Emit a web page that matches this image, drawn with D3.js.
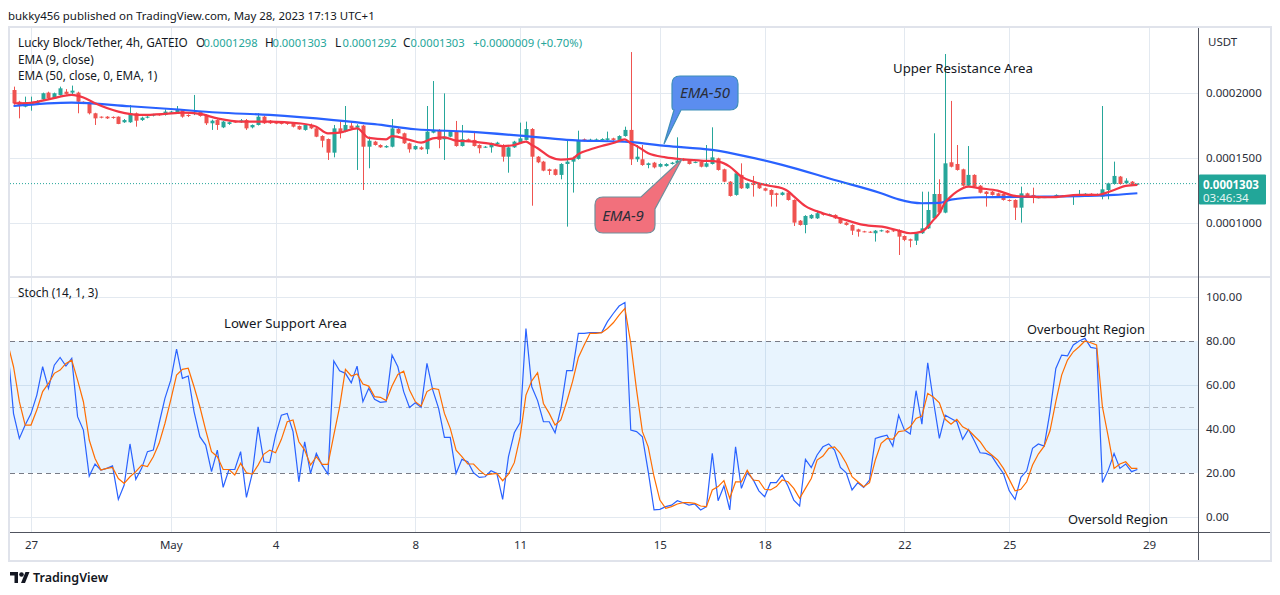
<!DOCTYPE html>
<html><head><meta charset="utf-8">
<script src="https://cdn.jsdelivr.net/npm/d3@7/dist/d3.min.js"></script>
<style>
html,body{margin:0;padding:0;background:#fff;}
svg{display:block;font-family:"Noto Sans",sans-serif;}
</style></head><body>
<svg id="chart" width="1280" height="595"></svg>
<script>
// ---------------- DATA ----------------
// prices are listed in units of 0.0000001 USDT
const UNIT = 1e-7;
const firstCandle = "2023-04-26T12:00";   // chart wall-clock (UTC+1)
const candleHours = 4;

const open = [
2023,1933,1895,1908,1921,1951,2003,1959,1985,2010,
2003,2003,1933,1921,1844,1818,1818,1816,1818,1775,
1775,1844,1792,1810,1826,1836,1831,1849,1849,1870,
1831,1839,1857,1831,1767,1792,1736,1762,1780,1775,
1792,1736,1754,1818,1787,1777,1770,1770,1767,1746,
1716,1754,1728,1669,1646,1541,1728,1703,1749,1733,
1749,1587,1626,1600,1582,1587,1723,1690,1613,1567,
1582,1567,1695,1716,1644,1664,1703,1592,1644,1639,
1600,1582,1582,1608,1600,1510,1582,1618,1639,1723,
1510,1472,1413,1413,1370,1454,1472,1493,1644,1636,
1638,1641,1639,1651,1639,1669,1716,1490,1490,1446,
1464,1433,1438,1454,1459,1493,1480,1464,1472,1433,
1454,1497,1413,1318,1216,1370,1267,1305,1300,1267,
1254,1228,1216,1234,1177,1018,985,1036,1036,1070,
1062,1062,1036,1003,985,951,936,933,921,938,
941,944,946,900,875,864,921,959,1036,1223,
1080,1467,1454,1413,1287,1370,1287,1241,1241,1228,
1223,1177,1177,1118,1228,1216,1195,1196,1198,1203,
1210,1206,1208,1216,1222,1225,1213,1203,1254,1300,
1357,1305,1318,1298];

const high = [
2049,1940,1972,1972,1945,2003,2010,2003,2049,2030,
2057,2010,1935,1925,1848,1820,1822,1820,1820,1800,
1908,1850,1818,1822,1840,1840,1874,1862,1900,1875,
1836,1985,1862,1836,1795,1798,1785,1780,1785,1800,
1800,1758,1844,1825,1792,1782,1775,1775,1772,1750,
1760,1765,1735,1675,1650,1754,1780,1900,1780,1760,
1755,1664,1632,1605,1598,1800,1730,1695,1618,1597,
1590,1900,2092,1722,1997,1708,1785,1754,1650,1708,
1605,1592,1618,1625,1606,1590,1632,1772,1780,1730,
1515,1478,1418,1418,1460,1639,1510,1710,1650,1648,
1650,1652,1703,1656,1675,1741,2315,1600,1600,1465,
1470,1460,1460,1470,1659,1498,1485,1474,1477,1600,
1736,1502,1418,1322,1390,1459,1310,1362,1305,1272,
1259,1233,1240,1240,1182,1023,1060,1068,1095,1075,
1072,1067,1041,1008,990,956,940,937,946,949,
946,950,951,905,880,926,1241,1241,1690,1336,
2300,1939,1600,1418,1592,1375,1292,1246,1246,1233,
1228,1182,1182,1280,1233,1272,1202,1203,1207,1220,
1214,1214,1220,1254,1229,1229,1227,1900,1310,1472,
1362,1344,1323,1303];

const low = [
1910,1805,1890,1864,1915,1946,1950,1955,1980,1988,
1985,1844,1915,1835,1754,1805,1800,1802,1760,1770,
1770,1741,1785,1805,1820,1825,1826,1845,1845,1810,
1815,1830,1818,1754,1716,1716,1730,1755,1770,1770,
1716,1728,1750,1762,1762,1760,1758,1755,1735,1716,
1710,1722,1660,1582,1485,1505,1651,1698,1722,1408,
1254,1421,1595,1578,1578,1582,1685,1608,1541,1562,
1562,1531,1690,1575,1485,1660,1587,1588,1622,1588,
1536,1578,1541,1602,1472,1387,1578,1612,1635,1133,
1460,1398,1370,1365,1336,972,1234,1488,1628,1630,
1632,1636,1634,1632,1634,1664,1446,1470,1440,1421,
1420,1428,1434,1450,1452,1476,1450,1460,1428,1428,
1450,1403,1313,1203,1210,1262,1262,1203,1262,1244,
1126,1126,1211,1172,977,980,921,1031,1031,1057,
1058,1031,993,980,908,895,928,925,857,933,
921,932,754,860,813,831,916,954,1030,1075,
1075,1428,1403,1280,1282,1275,1228,1126,1211,1203,
1172,1165,1023,1003,1198,1152,1190,1192,1194,1199,
1202,1202,1139,1212,1218,1217,1209,1182,1182,1295,
1295,1300,1287,1292];

const close = [
1921,1900,1921,1928,1934,1998,1959,1998,2036,1993,
2018,1933,1921,1844,1805,1810,1805,1808,1762,1792,
1844,1787,1810,1818,1836,1829,1857,1857,1870,1818,
1823,1849,1823,1767,1787,1754,1780,1775,1775,1790,
1728,1754,1818,1767,1767,1764,1762,1762,1741,1720,
1754,1728,1664,1633,1541,1728,1695,1754,1728,1749,
1587,1633,1600,1582,1592,1728,1690,1613,1567,1592,
1567,1703,1716,1639,1664,1703,1592,1644,1626,1592,
1575,1587,1613,1618,1510,1582,1626,1651,1723,1510,
1467,1403,1400,1370,1454,1472,1498,1639,1633,1641,
1643,1646,1651,1639,1669,1716,1490,1510,1446,1459,
1428,1454,1454,1464,1480,1480,1454,1470,1433,1459,
1505,1408,1318,1208,1382,1267,1305,1292,1267,1249,
1216,1216,1234,1177,1003,985,1054,1062,1075,1062,
1068,1036,998,985,941,933,931,928,941,944,
926,936,895,870,864,921,959,1100,1223,1080,
1459,1433,1408,1287,1370,1280,1233,1223,1216,1208,
1177,1170,1118,1228,1203,1198,1198,1199,1203,1216,
1206,1210,1216,1223,1225,1221,1223,1259,1305,1362,
1300,1326,1292,1303];

// EMA readings: [candle index, price]
const ema9 = [[0,1921],[3,1925],[6,1951],[10,1985],[12,1965],[14,1921],[18,1857],[22,1831],[26,1839],[29,1849],
[32,1839],[35,1805],[39,1780],[44,1780],[49,1767],[52,1741],[54,1690],[56,1695],[59,1728],[61,1655],
[64,1644],[65,1669],[68,1639],[70,1618],[72,1651],[74,1659],[76,1633],[79,1626],[82,1608],[84,1592],
[86,1600],[88,1626],[89,1600],[90,1575],[92,1512],[94,1488],[96,1495],[97,1530],[99,1565],[101,1592],
[103,1615],[105,1644],[106,1613],[107,1593],[109,1536],[112,1505],[115,1490],[118,1480],[121,1472],[123,1434],
[125,1357],[127,1318],[130,1285],[132,1267],[133,1245],[134,1205],[136,1130],[139,1075],[142,1036],[146,985],
[150,965],[152,941],[154,921],[156,934],[157,972],[158,1024],[159,1075],[160,1160],[161,1205],[162,1241],
[164,1280],[166,1267],[169,1249],[172,1208],[174,1203],[178,1198],[183,1216],[186,1216],[189,1254],[191,1285],
[193,1293]];
const ema50 = [[0,1900],[10,1926],[20,1898],[27,1877],[35,1850],[44,1831],[55,1792],[62,1760],[69,1721],[78,1703],
[87,1672],[95,1639],[106,1622],[112,1593],[120,1562],[126,1511],[132,1447],[141,1331],[149,1229],[152,1182],
[156,1152],[159,1155],[161,1180],[166,1198],[177,1203],[184,1208],[189,1216],[193,1229]];

// Stoch %K and %D, starting one candle before the first drawn candle
const stochK = [77,
47,35.7,41.8,47,55.4,68.3,58.5,69,72.5,68.6,
72.1,45.6,39.5,18.6,24.1,21.3,22.1,23.2,8,14.5,
33.2,17.1,22.1,29.7,30.4,42.5,53.9,62.2,76.3,63,
64.1,47.9,36.5,32.7,20.6,30.4,13.5,21.6,21.6,29.7,
8.9,19.8,41,25.1,24.7,37.2,46.3,47.1,38.8,16,
34.2,19.8,28.9,23.6,19.5,70.9,66.5,65.3,61,68.6,
52.4,58.5,53.5,52.1,52.4,73.6,68.3,57,49.8,51.9,
49.8,69.8,57.7,49.4,36.2,36.2,19.8,26.2,25.1,20.1,
18,18.3,21,19.8,8,27.4,38.3,42.9,85.7,59.2,
52.9,43.3,43.3,38.3,49.4,66.5,66.5,83.5,83.5,83.8,
83.8,83.8,88.8,92.5,95.9,97.5,39.5,38.8,36.5,20.6,
3.2,3.5,4.7,5.4,7.4,6.5,5.4,5.9,3.2,4.7,
28.9,7.4,14.1,3.2,31.9,13,20.1,17.1,11.9,9.2,
15.6,15.6,19.1,14.1,7.7,5,26.2,22.5,28.2,31.9,
33.2,30.4,22.5,20.1,12.3,15.6,13.5,16.8,35.7,36.5,
37.2,32.2,46.3,39.5,37.7,57.4,42.2,70.1,52.4,35.7,
46.3,44.8,43.3,35.3,39.8,34.7,29.2,28.9,27.7,23.6,
19.8,11.9,8,18,21,31.2,33.2,32.2,47.8,67.5,
73.6,73.2,78.2,80,81.2,77.1,76.6,15.7,21.3,28.9,
22.1,24.1,20.6,21.6];
const stochD = [79,
68.3,52.4,41.8,41.8,48.6,57,60.7,65.3,66.8,69.8,
71.3,62.2,52.4,35,26.6,21.3,22.1,22.5,17.5,15.3,
18.3,20.6,23.6,22.9,27.4,33.5,42.5,53.2,64.5,67.1,
67.6,59.2,50.1,39.5,29.7,27.4,21.6,21.6,19.1,24.4,
20.1,19.5,23.6,28.6,30.4,29.2,35.3,43.3,44.1,34.2,
30.4,23.6,27.4,23.9,23.9,37.2,50.1,67.1,64.1,65,
60.4,59.5,54.7,54.4,52.9,59.5,64.8,66.3,57.7,52.4,
50.4,57,58.5,58,47.1,40.3,30.4,27.4,24.1,24.1,
21.3,19.1,19.5,19.8,16.5,19.5,24.7,36.5,55.4,61.9,
65.6,51.6,47.1,41.8,44.1,52.4,61.5,72.5,78.2,83.5,
83.5,83.8,85.7,88.3,91.8,94.8,78.9,57.7,38.8,31.9,
18.3,7.7,3.9,4.7,5.9,6.5,6.5,6.2,5,4.7,
12.3,13.8,16.5,8.5,16,16,21.3,16.8,16.5,12.6,
12.3,13.8,16.8,16,13,8.5,13,17.5,25.9,27.7,
31.2,31.9,28.9,24.4,18.3,16,13.8,15.6,25.9,33.5,
35.7,35.3,38.8,39.2,41,44.8,45.9,56.2,54.4,51.9,
44.4,42.2,44.4,41,39.5,36.8,34.2,30.4,28.2,25.9,
22.1,17.1,11.9,12.6,16,23.6,28.6,32.2,39.2,52.4,
64.5,71.3,75.1,77.4,80,79.2,78.2,50.1,36.5,22.1,
24.1,25.1,22.1,22.1];

const timeTicks = ["2023-04-27","2023-05-01","2023-05-04","2023-05-08","2023-05-11","2023-05-15","2023-05-18","2023-05-22","2023-05-25","2023-05-29"];
const timeTickLabels = ["27","May","4","8","11","15","18","22","25","29"];
const priceTicks = [0.0001, 0.00015, 0.0002];
const stochTicks = [0, 20, 40, 60, 80, 100];
const stochGrid = [0, 40, 60, 100];
const stochBands = {upper: 80, middle: 50, lower: 20};
const lastPrice = 0.0001303;
const countdown = "03:46:34";
const legendOHLC = [["O", "0.0001298"], ["H", "0.0001303"], ["L", "0.0001292"], ["C", "0.0001303"]];
const legendChange = "+0.0000009 (+0.70%)";

// ---------------- LAYOUT ----------------
const L = 10, R = 1198, RR = 1270, T = 28, SEP = 277, AX = 532, B = 560;
const UP = "#26a69a", DOWN = "#ef5350", GRID = "#e3e9f0", TXT = "#131722", AXT = "#2a2e39";

const svg = d3.select("#chart");
const parseDay = d3.utcParse("%Y-%m-%d");
const parseHour = d3.utcParse("%Y-%m-%dT%H:%M");
const t0 = parseHour(firstCandle);
const tOf = i => new Date(t0.getTime() + i * candleHours * 3600e3);

const x = d3.scaleUtc().domain([parseDay("2023-04-27"), parseDay("2023-05-29")]).range([31, 1149]);
const y = d3.scaleLinear().domain([0.0001, 0.0002]).range([223, 93]);
const ys = d3.scaleLinear().domain([0, 100]).range([517, 297]);

const defs = svg.append("defs");
defs.append("clipPath").attr("id", "clipP").append("rect").attr("x", L).attr("y", T).attr("width", R - L).attr("height", SEP - T - 1);
defs.append("clipPath").attr("id", "clipS").append("rect").attr("x", L).attr("y", SEP + 1).attr("width", R - L).attr("height", AX - SEP - 1);

svg.append("rect").attr("width", 1280).attr("height", 595).attr("fill", "#fff");

function fitW(sel, w) {
  const cur = sel.node().getComputedTextLength();
  if (cur > 0) sel.attr("font-size", (+sel.attr("font-size")) * w / cur);
  return sel;
}

// header
const hdr = svg.append("text").attr("x", 8).attr("y", 15).attr("dominant-baseline", "central")
  .attr("font-size", 12.5).attr("fill", TXT).text("bukky456 published on TradingView.com, May 28, 2023 17:13 UTC+1");
fitW(hdr, 367);

// grid
const tickDates = timeTicks.map(parseDay);
const grid = svg.append("g").attr("stroke", GRID).attr("stroke-width", 1);
grid.selectAll("line.v").data(tickDates).join("line")
  .attr("x1", d => Math.round(x(d)) + 0.5).attr("x2", d => Math.round(x(d)) + 0.5)
  .attr("y1", T).attr("y2", AX);
grid.selectAll("line.hp").data(priceTicks).join("line")
  .attr("x1", L).attr("x2", R).attr("y1", d => Math.round(y(d)) + 0.5).attr("y2", d => Math.round(y(d)) + 0.5);
grid.selectAll("line.hs").data(stochGrid).join("line")
  .attr("x1", L).attr("x2", R).attr("y1", d => Math.round(ys(d)) + 0.5).attr("y2", d => Math.round(ys(d)) + 0.5);

// stoch band
svg.append("rect").attr("x", L).attr("width", R - L)
  .attr("y", ys(stochBands.upper)).attr("height", ys(stochBands.lower) - ys(stochBands.upper))
  .attr("fill", "rgba(33,150,243,0.1)");
[[stochBands.upper, 1], [stochBands.middle, 0.5], [stochBands.lower, 1]].forEach(([v, op]) => {
  svg.append("line").attr("x1", L).attr("x2", R).attr("y1", Math.round(ys(v)) + 0.5).attr("y2", Math.round(ys(v)) + 0.5)
    .attr("stroke", "#787b86").attr("stroke-opacity", op).attr("stroke-dasharray", "5,4");
});

// candles
const candles = open.map((o, i) => ({ t: tOf(i), o: o * UNIT, h: high[i] * UNIT, l: low[i] * UNIT, c: close[i] * UNIT }));
const gC = svg.append("g").attr("clip-path", "url(#clipP)");
gC.selectAll("line.wick").data(candles).join("line")
  .attr("x1", d => Math.round(x(d.t)) + 0.5).attr("x2", d => Math.round(x(d.t)) + 0.5)
  .attr("y1", d => y(d.h)).attr("y2", d => y(d.l))
  .attr("stroke", d => d.c >= d.o ? UP : DOWN).attr("stroke-width", 1);
gC.selectAll("rect.body").data(candles).join("rect")
  .attr("x", d => Math.round(x(d.t)) - 1.5).attr("width", 4)
  .attr("y", d => y(Math.max(d.o, d.c)))
  .attr("height", d => Math.max(1, Math.abs(y(d.o) - y(d.c))))
  .attr("fill", d => d.c >= d.o ? UP : DOWN);

// EMA lines
const emaLine = d3.line().x(d => x(tOf(d[0]))).y(d => y(d[1] * UNIT)).curve(d3.curveMonotoneX);
gC.append("path").datum(ema50).attr("d", emaLine).attr("fill", "none").attr("stroke", "#2962ff").attr("stroke-width", 2.2);
gC.append("path").datum(ema9).attr("d", emaLine).attr("fill", "none").attr("stroke", "#f23645").attr("stroke-width", 2.2);

// last price dotted line
gC.append("line").attr("x1", L).attr("x2", R).attr("y1", y(lastPrice)).attr("y2", y(lastPrice))
  .attr("stroke", UP).attr("stroke-dasharray", "1,2");

// stoch lines
const gS = svg.append("g").attr("clip-path", "url(#clipS)");
const stLine = d3.line().x((d, i) => x(tOf(i - 1))).y(d => ys(d));
gS.append("path").datum(stochK).attr("d", stLine).attr("fill", "none").attr("stroke", "#2962ff").attr("stroke-width", 1.2);
gS.append("path").datum(stochD).attr("d", stLine).attr("fill", "none").attr("stroke", "#ff6d00").attr("stroke-width", 1.2);

// frame
const frame = svg.append("g");
frame.append("rect").attr("x", L - 1).attr("y", T - 1).attr("width", RR - L + 2).attr("height", B - T + 2)
  .attr("fill", "none").attr("stroke", "#e0e3eb").attr("stroke-width", 2);
frame.append("line").attr("x1", L).attr("x2", RR).attr("y1", SEP).attr("y2", SEP).attr("stroke", "#e0e3eb").attr("stroke-width", 2);
frame.append("line").attr("x1", R + 0.5).attr("x2", R + 0.5).attr("y1", T).attr("y2", B).attr("stroke", "#50535e").attr("stroke-width", 1);
frame.append("line").attr("x1", L).attr("x2", RR).attr("y1", AX + 0.5).attr("y2", AX + 0.5).attr("stroke", "#50535e").attr("stroke-width", 1);

// axes
function styleAxis(g) {
  g.select(".domain").remove();
  g.selectAll("text").attr("font-family", "Noto Sans, sans-serif").attr("font-size", 11.5).attr("fill", AXT);
}
svg.append("g").attr("transform", `translate(0,${AX})`)
  .call(d3.axisBottom(x).tickValues(tickDates).tickFormat((d, i) => timeTickLabels[i]).tickSize(0).tickPadding(9))
  .call(styleAxis);
svg.append("g").attr("transform", `translate(${R},0)`)
  .call(d3.axisRight(y).tickValues(priceTicks).tickFormat(d3.format(".7f")).tickSize(0).tickPadding(8))
  .call(styleAxis);
svg.append("g").attr("transform", `translate(${R},0)`)
  .call(d3.axisRight(ys).tickValues(stochTicks).tickFormat(d3.format(".2f")).tickSize(0).tickPadding(8))
  .call(styleAxis);
svg.append("text").attr("x", 1208).attr("y", 41).attr("dominant-baseline", "central")
  .attr("font-size", 11.5).attr("fill", AXT).text("USDT");

// last price tag
const py = y(lastPrice);
svg.append("rect").attr("x", R + 1).attr("y", py - 9).attr("width", 67).attr("height", 30).attr("fill", "#22a699").attr("rx", 1);
svg.append("text").attr("x", 1203).attr("y", py + 0.5).attr("dominant-baseline", "central")
  .attr("font-size", 11.5).attr("font-weight", 700).attr("fill", "#fff").text(d3.format(".7f")(lastPrice));
svg.append("text").attr("x", 1203).attr("y", py + 14).attr("dominant-baseline", "central")
  .attr("font-size", 11.5).attr("fill", "#e6f6f4").text(countdown);

// legend
const lg = svg.append("g");
const title = lg.append("text").attr("x", 18).attr("y", 42).attr("dominant-baseline", "central")
  .attr("fill", TXT).attr("font-size", 12).text("Lucky Block/Tether, 4h, GATEIO");
fitW(title, 170);
const lfs = +title.attr("font-size");
const ohlcX = [196, 265, 335, 403];
legendOHLC.forEach(([k, v], i) => {
  lg.append("text").attr("x", ohlcX[i]).attr("y", 42).attr("font-size", lfs).attr("dominant-baseline", "central")
    .attr("fill", TXT).text(k);
  const vt = lg.append("text").attr("x", ohlcX[i] + 7.5).attr("y", 42).attr("font-size", lfs).attr("dominant-baseline", "central")
    .attr("fill", UP).text(v);
  fitW(vt, 54);
});
const ch = lg.append("text").attr("x", 473).attr("y", 42).attr("font-size", lfs).attr("dominant-baseline", "central")
  .attr("fill", UP).text(legendChange);
fitW(ch, 109);
lg.append("text").attr("x", 18).attr("y", 59).attr("font-size", lfs).attr("dominant-baseline", "central").attr("fill", TXT).text("EMA (9, close)");
lg.append("text").attr("x", 18).attr("y", 75).attr("font-size", lfs).attr("dominant-baseline", "central").attr("fill", TXT).text("EMA (50, close, 0, EMA, 1)");
lg.append("text").attr("x", 18).attr("y", 292).attr("font-size", lfs).attr("dominant-baseline", "central").attr("fill", TXT).text("Stoch (14, 1, 3)");

// annotations
const notes = [["Upper Resistance Area", 893, 68, 140], ["Lower Support Area", 224, 323, 123], ["Overbought Region", 1027, 329, 118], ["Oversold Region", 1068, 519, 100]];
notes.forEach(([s, nx, ny, w]) => {
  const t = svg.append("text").attr("x", nx).attr("y", ny).attr("dominant-baseline", "central")
    .attr("font-size", 13.5).attr("fill", TXT).text(s);
  fitW(t, w);
});

// callouts
svg.append("path")
  .attr("d", "M680,76 H730 Q738,76 738,84 V102 Q738,110 730,110 H681 L664,144 L674,110 Q672,110 672,106 V84 Q672,76 680,76 Z")
  .attr("fill", "#5b8def").attr("stroke", "#3f8fb8").attr("stroke-width", 1.2);
svg.append("text").attr("x", 705).attr("y", 92).attr("text-anchor", "middle").attr("dominant-baseline", "central")
  .attr("font-size", 15).attr("font-style", "italic").attr("fill", "#2a2e39").text("EMA-50");
svg.append("path")
  .attr("d", "M603,197 H641 L682,159 L655,209 V225 Q655,233 647,233 H603 Q595,233 595,225 V205 Q595,197 603,197 Z")
  .attr("fill", "#f2707c").attr("stroke", "#6f8f9c").attr("stroke-width", 1.2);
svg.append("text").attr("x", 623).attr("y", 215).attr("text-anchor", "middle").attr("dominant-baseline", "central")
  .attr("font-size", 15).attr("font-style", "italic").attr("fill", "#2a2e39").text("EMA-9");

// TradingView logo
const logo = svg.append("g").attr("fill", TXT);
logo.append("path").attr("d", "M10,572 H18 V583 H14.5 V575.5 H10 Z");
logo.append("circle").attr("cx", 21.5).attr("cy", 574.5).attr("r", 2.3);
logo.append("path").attr("d", "M21,583 L25.5,572 H29.5 L25,583 Z");
svg.append("text").attr("x", 33).attr("y", 577.5).attr("dominant-baseline", "central")
  .attr("font-size", 12.5).attr("font-weight", 600).attr("fill", TXT).text("TradingView");
</script>
</body></html>
